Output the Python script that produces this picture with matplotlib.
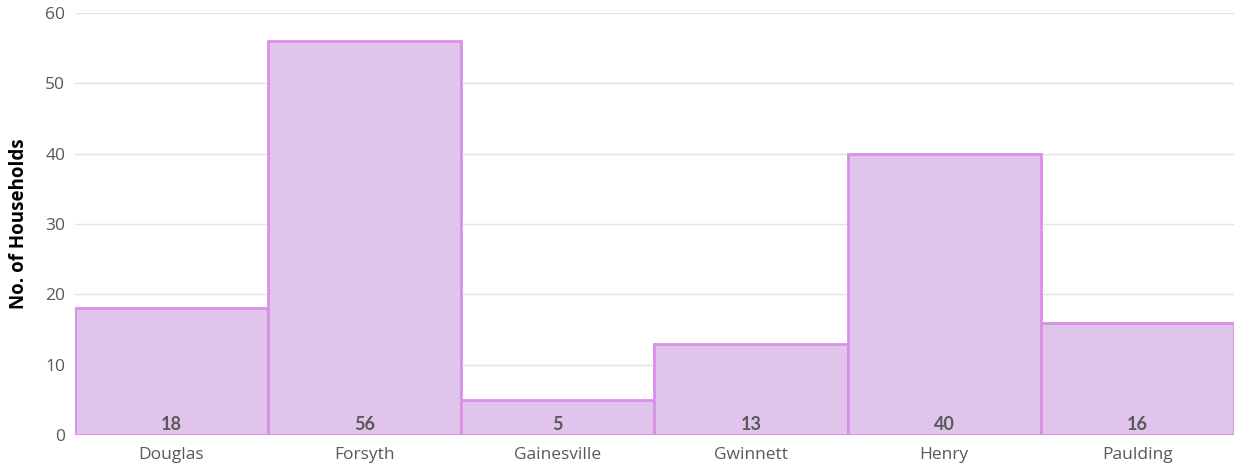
import matplotlib.pyplot as plt

counties = ['Douglas', 'Forsyth', 'Gainesville', 'Gwinnett', 'Henry', 'Paulding']
households = [18, 56, 5, 13, 40, 16]
y_ticks = [0, 10, 20, 30, 40, 50, 60]

plt.rcParams['font.family'] = ['Open Sans', 'DejaVu Sans']

fig = plt.figure(figsize=(12.35, 4.69), dpi=100)
ax = fig.add_axes([0.0607, 0.0725, 0.9385, 0.8995])

x = range(len(counties))
ax.bar(x, households, width=1.0, color='#E1C4EC', edgecolor='#DA90E6',
       linewidth=2, zorder=3)

for xi, v in zip(x, households):
    ax.text(xi, 0.3, str(v), ha='center', va='bottom', fontsize=13,
            fontweight='bold', color='#595959', family=['Lato', 'DejaVu Sans'],
            zorder=4)

ax.set_xlim(-0.5, len(counties) - 0.5)
ax.set_ylim(0, 60)
ax.set_yticks(y_ticks)
ax.set_xticks(list(x))
ax.set_xticklabels(counties)
ax.tick_params(axis='both', length=0, labelsize=12.5, colors='#595959')
ax.tick_params(axis='x', pad=9)
ax.tick_params(axis='y', pad=7)
ax.grid(axis='y', color='#E3E3E3', linewidth=1, zorder=0)
for s in ax.spines.values():
    s.set_visible(False)

ax.set_ylabel('No. of Households', fontsize=13.5, fontweight='bold', color='black',
              labelpad=12)

fig.savefig('out.png', dpi=100)
